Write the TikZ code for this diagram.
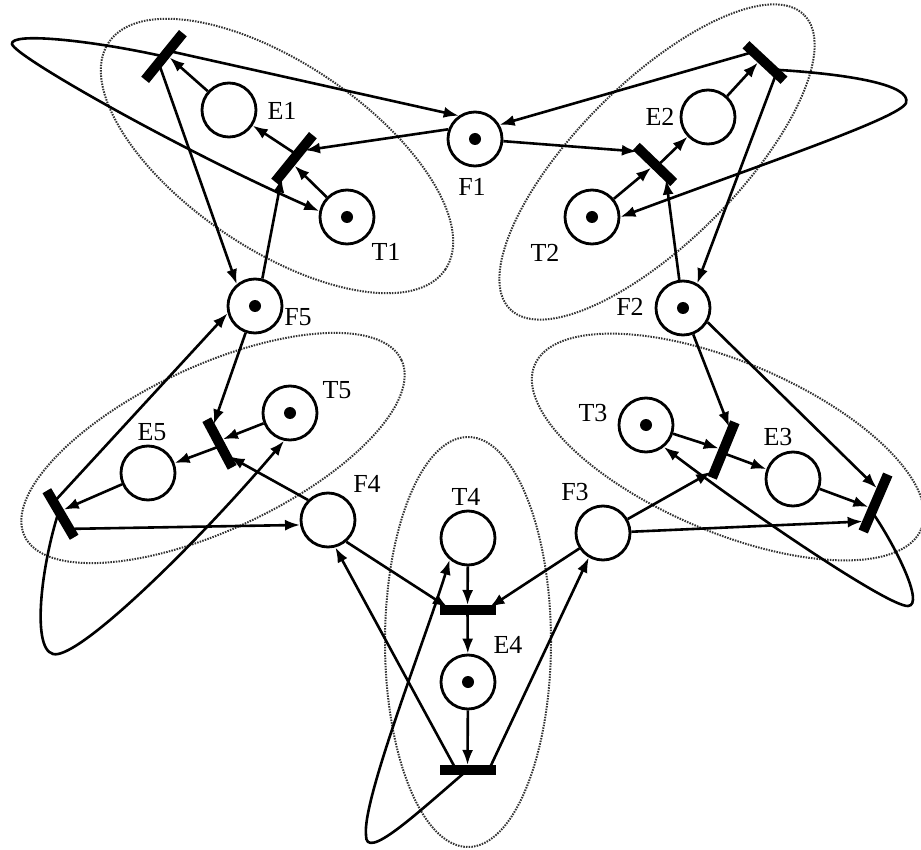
\documentclass[tikz,border=0pt]{standalone}
\usepackage{fontspec}
\setmainfont{Liberation Serif}
\usetikzlibrary{arrows.meta,calc}
\begin{document}
\begin{tikzpicture}[x=1pt,y=-1pt,
  place/.style={circle,draw,line width=2.8pt,minimum size=54pt,inner sep=0pt,fill=white},
  trans/.style={rectangle,fill=black,inner sep=0pt,outer sep=0pt,minimum height=10pt,minimum width=#1},
  trans/.default=60pt,
  flow/.style={line width=2.6pt,-{Latex[length=15pt,width=11pt]}},
  bin/.style={shorten >=5pt},
  grp/.style={line width=2pt,dash pattern=on 1.5pt off 1.2pt,black!80},
  lab/.style={font=\fontsize{26}{26}\selectfont,inner sep=0pt}]
\useasboundingbox (0,0) rectangle (921,850);

% grouping ellipses
\draw[grp,rotate around={-34:(277,156)}] (277,156) ellipse [x radius=203pt,y radius=93pt];
\draw[grp,rotate around={45:(657,162)}] (657,162) ellipse [x radius=208pt,y radius=80pt];
\draw[grp,rotate around={-23:(728,447)}] (728,447) ellipse [x radius=210pt,y radius=85pt];
\draw[grp] (468,642) ellipse [x radius=83pt,y radius=205pt];
\draw[grp,rotate around={25:(213,448)}] (213,448) ellipse [x radius=208pt,y radius=82pt];

% places
\node[place] (F1) at (475,139) {};
\node[place] (E1) at (229,110) {};
\node[place] (T1) at (347,217) {};
\node[place] (F2) at (683,308) {};
\node[place] (E2) at (708,117) {};
\node[place] (T2) at (592,217) {};
\node[place] (F3) at (603,533) {};
\node[place] (E3) at (793,479) {};
\node[place] (T3) at (646,425) {};
\node[place] (F4) at (328,520) {};
\node[place] (E4) at (468,682) {};
\node[place] (T4) at (468,538) {};
\node[place] (F5) at (255,306) {};
\node[place] (E5) at (148,473) {};
\node[place] (T5) at (290,413) {};

% tokens
\foreach \p in {F1,T1,F2,T2,T3,E4,F5,T5}
  \fill (\p.center) circle (6pt);

% transitions
\node[trans=60pt,rotate=51] (t1a) at (164,56.5) {};
\node[trans=60pt,rotate=51] (t1b) at (294,158.5) {};
\node[trans=52pt,rotate=-44] (t2a) at (655,164.5) {};
\node[trans=52pt,rotate=-43] (t2b) at (765,62.5) {};
\node[trans=60pt,rotate=67.7] (t3a) at (723.5,450) {};
\node[trans=62pt,rotate=66.7] (t3b) at (875.5,503) {};
\node[trans=56pt] (t4a) at (467.5,610) {};
\node[trans=56pt] (t4b) at (467.5,770) {};
\node[trans=54pt,rotate=-62] (t5a) at (219.5,443.5) {};
\node[trans=54pt,rotate=-59.6] (t5b) at (60.5,514) {};

% labels
\node[lab] (lF1) at (472,187) {F1};
\node[lab] (lE1) at (282,111) {E1};
\node[lab] (lT1) at (386,252) {T1};
\node[lab] (lF2) at (630,307) {F2};
\node[lab] (lE2) at (660,117) {E2};
\node[lab] (lT2) at (545,253) {T2};
\node[lab] (lF3) at (575,492) {F3};
\node[lab] (lE3) at (778,437) {E3};
\node[lab] (lT3) at (593,413) {T3};
\node[lab] (lF4) at (367,484) {F4};
\node[lab] (lE4) at (508,645) {E4};
\node[lab] (lT4) at (466,497) {T4};
\node[lab] (lF5) at (298,317) {F5};
\node[lab] (lE5) at (152,432) {E5};
\node[lab] (lT5) at (337,390) {T5};

% philosopher 1
\draw[flow,bin] (T1) -- ($(t1b.west)!0.42!(t1b.east)$);
\draw[flow,bin] (F1.160) -- ($(t1b.west)!0.66!(t1b.east)$);
\draw[flow,bin] (F5.75) -- ($(t1b.west)!0.2!(t1b.east)$);
\draw[flow] ($(t1b.west)!0.58!(t1b.east)$) -- (E1);
\draw[flow,bin] (E1) -- ($(t1a.west)!0.55!(t1a.east)$);
\draw[flow] ($(t1a.west)!0.62!(t1a.east)$) -- (F1.125);
\draw[flow] ($(t1a.west)!0.36!(t1a.east)$) -- (F5.130);
\draw[flow] (t1a.center) .. controls (90,40) and (10,32) .. (12,44)
  .. controls (14,56) and (180,150) .. (T1.168);

% philosopher 2
\draw[flow,bin] (T2) -- ($(t2a.west)!0.5!(t2a.east)$);
\draw[flow,bin] (F1) -- ($(t2a.west)!0.15!(t2a.east)$);
\draw[flow,bin] (F2) -- ($(t2a.west)!0.78!(t2a.east)$);
\draw[flow] ($(t2a.west)!0.55!(t2a.east)$) -- (E2);
\draw[flow,bin] (E2) -- ($(t2b.west)!0.4!(t2b.east)$);
\draw[flow] ($(t2b.west)!0.2!(t2b.east)$) -- (F1.30);
\draw[flow] ($(t2b.west)!0.8!(t2b.east)$) -- (F2.60);
\draw[flow] ($(t2b.west)!0.7!(t2b.east)$) .. controls (850,74) and (912,85) .. (906,103)
  .. controls (900,118) and (760,165) .. (T2.east);

% philosopher 3
\draw[flow,bin] (T3) -- ($(t3a.west)!0.5!(t3a.east)$);
\draw[flow,bin] (F2) -- ($(t3a.west)!0.83!(t3a.east)$);
\draw[flow,bin] (F3) -- ($(t3a.west)!0.15!(t3a.east)$);
\draw[flow] ($(t3a.west)!0.45!(t3a.east)$) -- (E3);
\draw[flow,bin] (E3) -- ($(t3b.west)!0.4!(t3b.east)$);
\draw[flow,bin] (F2.330) -- ($(t3b.west)!0.7!(t3b.east)$);
\draw[flow,bin] (F3) -- ($(t3b.west)!0.18!(t3b.east)$);
\draw[flow] ($(t3b.west)!0.35!(t3b.east)$) .. controls (895,545) and (925,605) .. (908,606)
  .. controls (890,607) and (760,520) .. (T3.309);

% philosopher 4
\draw[flow] (T4) -- (t4a);
\draw[flow,bin] (F4.310) -- ($(t4a.west)!0.22!(t4a.east)$);
\draw[flow,bin] (F3) -- ($(t4a.west)!0.82!(t4a.east)$);
\draw[flow] (t4a) -- (E4);
\draw[flow] (E4) -- (t4b);
\draw[flow] ($(t4b.west)!0.3!(t4b.east)$) -- (F4.285);
\draw[flow] ($(t4b.west)!0.88!(t4b.east)$) -- (F3.240);
\draw[flow] (t4b.center) .. controls (415,815) and (365,862) .. (366,835)
  .. controls (362,800) and (425,640) .. (T4.230);

% philosopher 5
\draw[flow,bin] (T5) -- ($(t5a.west)!0.45!(t5a.east)$);
\draw[flow,bin] (F5) -- ($(t5a.west)!0.2!(t5a.east)$);
\draw[flow,bin] (F4.135) -- ($(t5a.west)!0.72!(t5a.east)$);
\draw[flow] ($(t5a.west)!0.55!(t5a.east)$) -- (E5);
\draw[flow,bin] (E5) -- ($(t5b.west)!0.45!(t5b.east)$);
\draw[flow] ($(t5b.west)!0.25!(t5b.east)$) -- (F5.195);
\draw[flow] ($(t5b.west)!0.82!(t5b.east)$) -- (F4.190);
\draw[flow] ($(t5b.west)!0.44!(t5b.east)$) .. controls (40,570) and (30,660) .. (58,654)
  .. controls (90,648) and (200,540) .. (T5.258);
\end{tikzpicture}
\end{document}
